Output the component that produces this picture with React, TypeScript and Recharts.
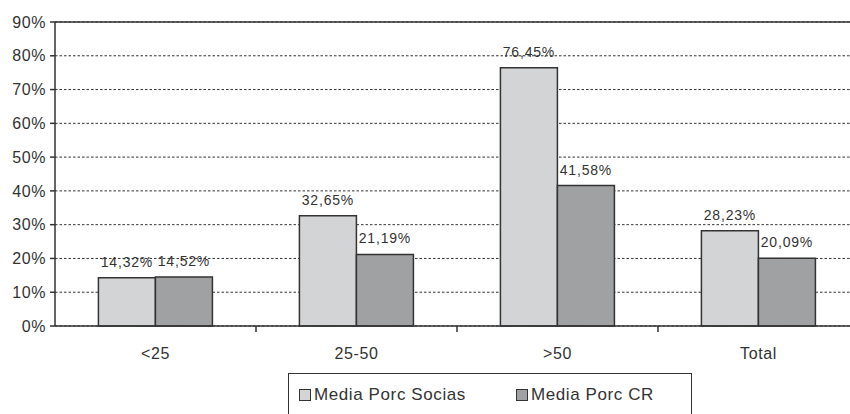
// Bar chart: media porcentaje socias vs CR por tramo
import React from 'react';
import { BarChart, Bar, XAxis, YAxis, CartesianGrid, Legend, LabelList, ReferenceLine } from 'recharts';

const categories = ['<25', '25-50', '>50', 'Total'];
const sociasValues = [14.32, 32.65, 76.45, 28.23];
const crValues = [14.52, 21.19, 41.58, 20.09];
const yTicks = [0, 10, 20, 30, 40, 50, 60, 70, 80, 90];

const SERIES = [
  { key: 'socias', name: 'Media Porc Socias', color: '#d3d4d6' },
  { key: 'cr', name: 'Media Porc CR', color: '#a0a1a3' },
];

const FONT = '"Liberation Sans", Arial, sans-serif';
const INK = '#333333';

const fmt = (v: number) => v.toFixed(2).replace('.', ',') + '%';

// category-boundary tick marks + centered label
function XTick(props: any) {
  const { x, y, payload, index } = props;
  const half = payload && payload.offset ? payload.offset : 100.5;
  return (
    <g>
      {index < categories.length - 1 && (
        <line x1={x + half} y1={y} x2={x + half} y2={y + 6} stroke={INK} strokeWidth={1.5} />
      )}
      <text x={x} y={y + 33} textAnchor="middle" fill={INK} fontSize={16} fontFamily={FONT} letterSpacing={0.6}>
        {payload.value}
      </text>
    </g>
  );
}

function LegendBox() {
  return (
    <div
      style={{
        width: 404,
        height: 44,
        boxSizing: 'border-box',
        border: `1.5px solid ${INK}`,
        display: 'flex',
        alignItems: 'center',
        fontFamily: FONT,
        fontSize: 17,
        letterSpacing: 0.6,
        color: INK,
      }}
    >
      {SERIES.map((s, i) => (
        <div key={s.key} style={{ display: 'flex', alignItems: 'center', marginLeft: i === 0 ? 10 : 50 }}>
          <span
            style={{
              display: 'inline-block',
              width: 10,
              height: 10,
              background: s.color,
              border: `1.3px solid ${INK}`,
              marginRight: 3,
            }}
          />
          <span>{s.name}</span>
        </div>
      ))}
    </div>
  );
}

export default function App() {
  const data = categories.map((c, i) => ({ name: c, socias: sociasValues[i], cr: crValues[i] }));

  return (
    <div style={{ position: 'absolute', left: 0, top: 0, width: 850, height: 414, overflow: 'hidden', background: '#fff' }}>
      <BarChart
        width={870}
        height={414}
        data={data}
        margin={{ top: 22, right: 11, left: 0, bottom: 0 }}
        barGap={0}
        barCategoryGap="21.6%"
      >
        <CartesianGrid vertical={false} stroke={INK} strokeDasharray="2.5 2" />
        <XAxis
          dataKey="name"
          height={44}
          tickLine={false}
          tickSize={0}
          tickMargin={0}
          axisLine={{ stroke: INK, strokeWidth: 1.5 }}
          tick={<XTick />}
          interval={0}
        />
        <YAxis
          width={55}
          domain={[0, 90]}
          ticks={yTicks}
          interval={0}
          tickFormatter={(v: number) => `${v}%`}
          axisLine={{ stroke: INK, strokeWidth: 1.5 }}
          tickLine={{ stroke: INK, strokeWidth: 1.5 }}
          tickSize={5}
          tickMargin={4}
          tick={{ fill: INK, fontSize: 16, fontFamily: FONT, letterSpacing: 0.6 }}
        />
        <ReferenceLine y={90} stroke={INK} strokeWidth={1.5} />
        <Legend
          verticalAlign="bottom"
          content={<LegendBox />}
          wrapperStyle={{ position: 'absolute', left: 288, top: 373, width: 404, height: 44 }}
        />
        {SERIES.map((s) => (
          <Bar key={s.key} dataKey={s.key} name={s.name} fill={s.color} stroke={INK} strokeWidth={1.5} isAnimationActive={false}>
            <LabelList
              dataKey={s.key}
              position="top"
              offset={11}
              formatter={(v: any) => fmt(Number(v))}
              style={{ fill: INK, fontSize: 14, fontFamily: FONT, letterSpacing: 0.8 }}
            />
          </Bar>
        ))}
      </BarChart>
    </div>
  );
}
